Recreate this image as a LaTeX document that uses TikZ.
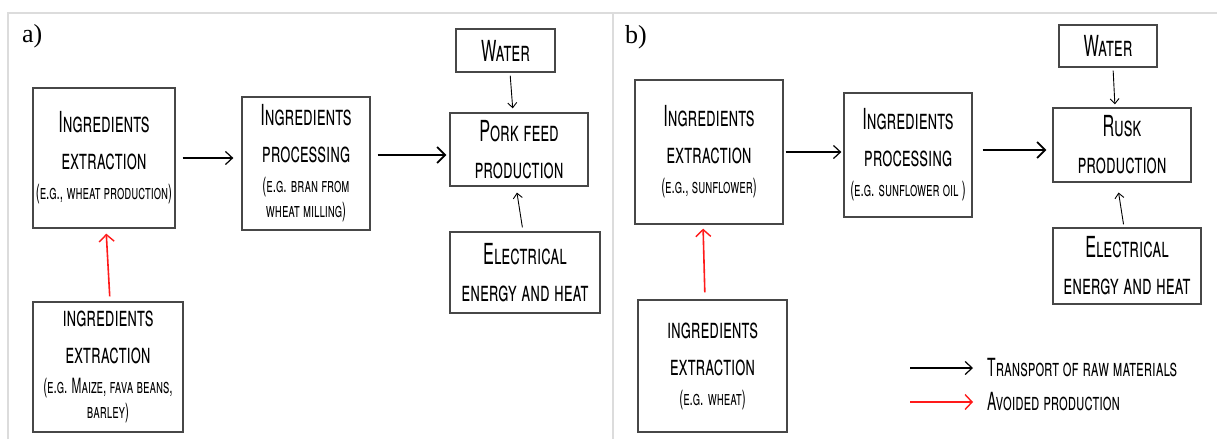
\documentclass[tikz,border=0pt]{standalone}
\usepackage{fontspec}
\setmainfont{Liberation Serif}
\newfontfamily\hand[FakeStretch=0.56,Letters=SmallCaps]{TeX Gyre Heros}
\usetikzlibrary{arrows.meta}
\definecolor{boxgray}{HTML}{474747}
\definecolor{framegray}{HTML}{DCDCDC}
\definecolor{avoidred}{HTML}{FF1A1A}
\newcommand{\sm}[1]{{\fontsize{21}{25}\selectfont #1}}
\tikzset{
  stepbox/.style={draw=boxgray, line width=1.3pt, inner sep=0pt, align=center,
    font=\hand\fontsize{29}{37}\selectfont},
  flow/.style={draw=black, line width=1.2pt, -{Straight Barb[length=7pt,width=13pt,line width=1.2pt]}},
  bigflow/.style={draw=black, line width=2pt, -{Straight Barb[length=8pt,width=16pt,line width=1.8pt]}},
  feed/.style={draw=black, line width=0.9pt, -{Straight Barb[length=5pt,width=9pt,line width=0.9pt]}},
  avoid/.style={draw=avoidred, line width=1.6pt, -{Straight Barb[length=7pt,width=15pt,line width=1.4pt]}},
  panel/.style={font=\fontsize{26}{30}\selectfont, anchor=base west, inner sep=0pt},
  legtext/.style={font=\hand\fontsize{25}{28}\selectfont, anchor=west, inner sep=0pt}
}
\begin{document}
\begin{tikzpicture}[x=1pt,y=-1pt]
\useasboundingbox (0,0) rectangle (1217,439);
% frame
\draw[framegray, line width=2pt] (8,439) -- (8,13) -- (1217,13);
\draw[framegray, line width=2pt] (613,13) -- (613,439);
\node[panel] (la) at (22,42) {a)};
\node[panel] (lb) at (625,43) {b)};
% panel a
\node[stepbox, minimum width=142pt, minimum height=140pt] (A1) at (104,158)
  {Ingredients\\extraction\\[-7pt]\sm{(e.g., wheat production)}};
\node[stepbox, minimum width=128pt, minimum height=133pt] (A2) at (306,163.5)
  {Ingredients\\processing\\[-7pt]\sm{(e.g. bran from}\\[-12pt]\sm{wheat milling)}};
\node[stepbox, minimum width=138pt, minimum height=73pt] (A3) at (519,149.5)
  {Pork feed\\production};
\node[stepbox, minimum width=99pt, minimum height=43pt] (WA) at (505.5,50.5) {Water};
\node[stepbox, minimum width=150pt, minimum height=81pt] (EA) at (525,272.5)
  {Electrical\\energy and heat};
\node[stepbox, minimum width=150pt, minimum height=130pt] (A4) at (108,367)
  {ingredients\\extraction\\[-7pt]\sm{(e.g. Maize, fava beans,}\\[-12pt]\sm{barley)}};
\draw[flow, shorten <=7pt, shorten >=8pt] (A1.east) -- (A1.east -| A2.west);
\draw[bigflow, shorten <=7pt, shorten >=3pt] ([yshift=8.5pt]A2.east) -- ([yshift=8.5pt]A2.east -| A3.west);
\draw[feed, shorten <=3pt, shorten >=4pt] ([xshift=4.5pt]WA.south) -- ([xshift=-6pt]A3.north);
\draw[feed, shorten <=4pt, shorten >=6pt] ([xshift=-2pt]EA.north) -- ([xshift=-3pt]A3.south);
\draw[avoid, shorten <=5pt, shorten >=5pt] ([xshift=2pt]A4.north) -- ([xshift=2pt]A1.south);
% panel b
\node[stepbox, minimum width=148pt, minimum height=144pt] (B1) at (709,152)
  {Ingredients\\extraction\\[-7pt]\sm{(e.g., sunflower)}};
\node[stepbox, minimum width=128pt, minimum height=124pt] (B2) at (908,155)
  {Ingredients\\processing\\[-7pt]\sm{(e.g. sunflower oil )}};
\node[stepbox, minimum width=138pt, minimum height=74pt] (B3) at (1122,145)
  {Rusk\\production};
\node[stepbox, minimum width=98pt, minimum height=42pt] (WB) at (1108,46) {Water};
\node[stepbox, minimum width=148pt, minimum height=76pt] (EB) at (1127,266)
  {Electrical\\energy and heat};
\node[stepbox, minimum width=149pt, minimum height=132pt] (B4) at (712.5,366)
  {ingredients\\extraction\\[-7pt]\sm{(e.g. wheat)}};
\draw[flow, shorten <=2pt, shorten >=2pt] (B1.east) -- (B1.east -| B2.west);
\draw[bigflow, shorten <=10pt, shorten >=6pt] ([yshift=5pt]B2.east) -- ([yshift=5pt]B2.east -| B3.west);
\draw[feed, shorten <=3pt, shorten >=3pt] ([xshift=5pt]WB.south) -- ([xshift=-7pt]B3.north);
\draw[feed, shorten <=3pt, shorten >=10pt] ([xshift=-3pt]EB.north) -- ([xshift=-5pt]B3.south);
\draw[avoid, shorten <=7pt, shorten >=4pt] ([xshift=-7.5pt]B4.north) -- ([xshift=-6pt]B1.south);
% legend
\node[legtext] (L1) at (987,368) {Transport of raw materials};
\node[legtext] (L2) at (987,402) {Avoided production};
\coordinate (L1s) at (910,368);
\coordinate (L2s) at (910,402);
\draw[flow] (L1s) -- ([xshift=-14pt]L1.west);
\draw[avoid] (L2s) -- ([xshift=-14pt]L2.west);
\end{tikzpicture}
\end{document}
